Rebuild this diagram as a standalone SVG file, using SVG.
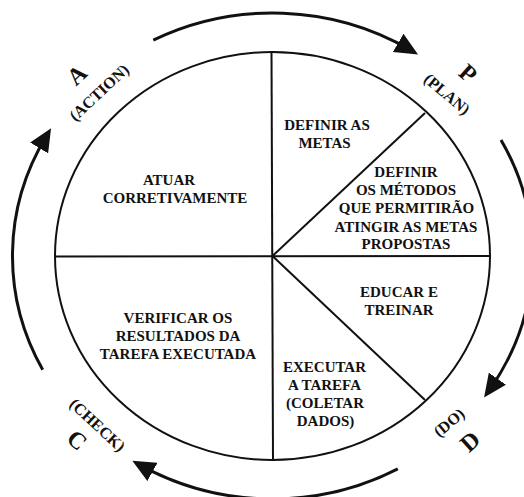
<svg xmlns="http://www.w3.org/2000/svg" width="524" height="497" viewBox="0 0 524 497">
<style>
.t{font-family:"Liberation Serif","Times New Roman",serif;font-weight:bold;font-size:15px;fill:#111;text-anchor:middle}
.lb{font-family:"Liberation Serif","Times New Roman",serif;font-weight:bold;font-size:16px;fill:#111;text-anchor:start}
.big{font-family:"Liberation Serif","Times New Roman",serif;font-weight:bold;font-size:24px;fill:#111;text-anchor:start}
.ln{stroke:#111;stroke-width:2;fill:none}
.arc{stroke:#111;stroke-width:3;fill:none;marker-end:url(#ah)}
</style>
<defs>
<marker id="ah" markerUnits="userSpaceOnUse" viewBox="0 0 23 21" markerWidth="23" markerHeight="21" refX="14" refY="10.5" orient="auto">
<path d="M0,0 L23,10.5 L0,21 z" fill="#111"/>
</marker>
</defs>
<rect width="524" height="497" fill="#fff"/>
<g id="wheel">
<ellipse class="ln" cx="272.5" cy="256" rx="217.5" ry="204" stroke-width="2.5"/>
<line class="ln" x1="271.5" y1="52" x2="273" y2="460"/>
<line class="ln" x1="55" y1="256.5" x2="490" y2="256"/>
<line class="ln" x1="272.5" y1="256" x2="425" y2="113"/>
<line class="ln" x1="272.5" y1="256" x2="425" y2="400"/>
</g>
<g id="connectors">
<path class="arc" d="M153.3,40.1 A260,243 0 0 1 410.3,49.9"/>
<path class="arc" d="M501,140 A260,243 0 0 1 489.3,390.1"/>
<path class="arc" d="M397.8,468.9 A260,243 0 0 1 140.2,465.1"/>
<path class="arc" d="M42.7,369.7 A260,243 0 0 1 46.4,136"/>
</g>
<g id="atuar">
<text class="t" x="169" y="185">ATUAR</text>
<text class="t" x="175" y="203">CORRETIVAMENTE</text>
</g>
<g id="definir-metas">
<text class="t" x="327" y="130">DEFINIR AS</text>
<text class="t" x="324.5" y="148">METAS</text>
</g>
<g id="definir-metodos">
<text class="t" x="406" y="177">DEFINIR</text>
<text class="t" x="406" y="195">OS MÉTODOS</text>
<text class="t" x="406.5" y="213">QUE PERMITIRÃO</text>
<text class="t" x="406" y="231.5">ATINGIR AS METAS</text>
<text class="t" x="406" y="249">PROPOSTAS</text>
</g>
<g id="educar">
<text class="t" x="399" y="297">EDUCAR E</text>
<text class="t" x="399" y="314.5">TREINAR</text>
</g>
<g id="executar">
<text class="t" x="324.5" y="372">EXECUTAR</text>
<text class="t" x="324.5" y="389.5">A TAREFA</text>
<text class="t" x="325" y="408">(COLETAR</text>
<text class="t" x="325.5" y="426">DADOS)</text>
</g>
<g id="verificar">
<text class="t" x="178" y="322.5">VERIFICAR OS</text>
<text class="t" x="178" y="340.5">RESULTADOS DA</text>
<text class="t" x="178" y="358.5">TAREFA EXECUTADA</text>
</g>
<g id="label-a">
<text class="big" x="76.12" y="86.76" rotate="-43">A</text>
<text class="lb" x="75.45 79.35 87.80 96.24 104.05 108.60 117.71 126.16" y="121.98 118.35 110.47 102.59 95.31 91.07 82.58 74.70" rotate="-43">(ACTION)</text>
</g>
<g id="label-p">
<text class="big" x="457.20" y="74.54" rotate="42">P</text>
<text class="lb" x="422.70 426.78 434.27 442.44 451.29 460.14" y="80.79 84.22 90.50 97.36 104.78 112.21" rotate="40">(PLAN)</text>
</g>
<g id="label-d">
<text class="big" x="468.92" y="453.24" rotate="-42">D</text>
<text class="lb" x="439.26 443.34 452.19 461.73" y="437.85 434.43 427.00 419.00" rotate="-40">(DO)</text>
</g>
<g id="label-c">
<text class="big" x="65.21" y="440.15" rotate="42">C</text>
<text class="lb" x="68.40 72.30 80.75 89.85 97.66 106.11 115.21" y="405.38 409.01 416.89 425.38 432.66 440.54 449.03" rotate="43">(CHECK)</text>
</g>
</svg>
